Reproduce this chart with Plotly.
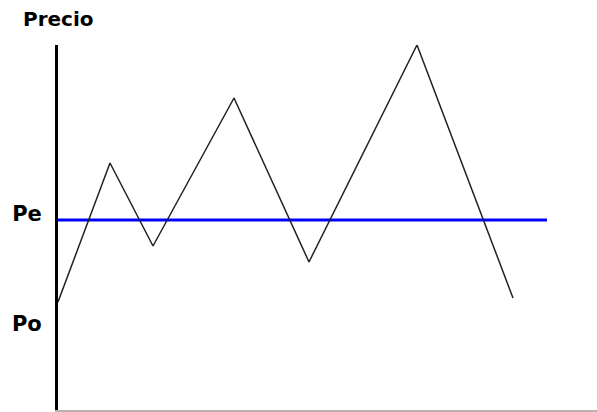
import plotly.graph_objects as go

# time (x) and price (y) of the fluctuating price path
tiempo = [0, 52, 95, 176, 251, 359, 455]
precio = [108, 247, 164, 312, 148, 365, 112]

# equilibrium price line
pe_valor = 190
pe_tiempo = [0, 489]

# y tick labels
tick_vals = [196, 86]
tick_text = ["<b>Pe</b>", "<b>Po</b>"]

fig = go.Figure()
fig.add_trace(go.Scatter(x=pe_tiempo, y=[pe_valor, pe_valor], mode="lines",
                         line=dict(color="#0000ff", width=3), showlegend=False,
                         hoverinfo="skip", cliponaxis=False))
fig.add_trace(go.Scatter(x=tiempo, y=precio, mode="lines",
                         line=dict(color="#222222", width=1.5), showlegend=False,
                         cliponaxis=False))

fig.update_layout(
    width=597, height=412,
    margin=dict(l=58, r=0, t=45, b=2),
    paper_bgcolor="white", plot_bgcolor="white",
    xaxis=dict(range=[0, 539], showgrid=False, zeroline=False, showticklabels=False,
               showline=True, linecolor="#bfb0b0", linewidth=2, fixedrange=True),
    yaxis=dict(range=[0, 365], showgrid=False, zeroline=False,
               tickvals=tick_vals, ticktext=tick_text, ticks="",
               ticklabelstandoff=9,
               tickfont=dict(family="DejaVu Sans", size=21, color="black"),
               showline=True, linecolor="black", linewidth=3, fixedrange=True),
    annotations=[dict(text="<b>Precio</b>", xref="paper", yref="paper",
                      x=-0.068, y=1.0, yshift=26, xanchor="left", yanchor="middle",
                      showarrow=False,
                      font=dict(family="DejaVu Sans", size=20, color="black"))],
)

fig.write_html("out.html", config={"displayModeBar": False},
               post_script="document.body.style.margin='0';document.body.style.padding='0';")
